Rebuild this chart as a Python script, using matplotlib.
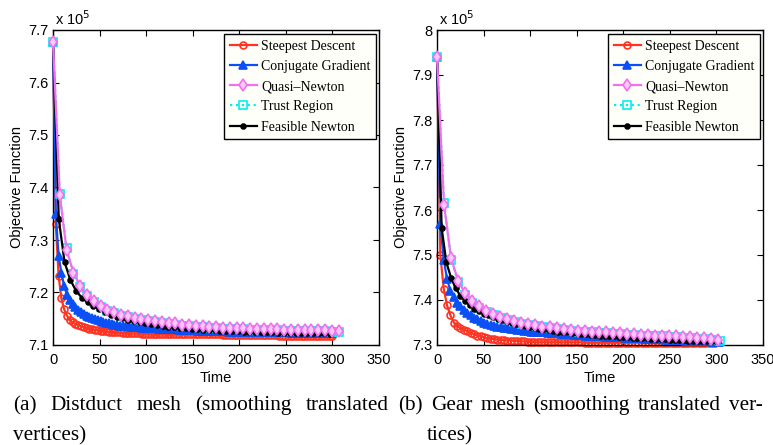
import numpy as np
import matplotlib.pyplot as plt

# ---- (a) Distduct mesh, values in units of 1e5 ----
a_steep_dt = 3.0
a_steep = [7.677, 7.330, 7.232, 7.189, 7.168, 7.156, 7.148, 7.143, 7.140, 7.138, 7.136,
           7.134, 7.132, 7.131, 7.130, 7.129, 7.128, 7.127, 7.126, 7.126, 7.125,
           7.125, 7.124, 7.124, 7.124, 7.123, 7.123, 7.123, 7.122, 7.122, 7.122,
           7.122, 7.121, 7.121, 7.121, 7.121, 7.121, 7.121, 7.121, 7.121, 7.121,
           7.121, 7.120, 7.120, 7.120, 7.120, 7.120, 7.120, 7.120, 7.120, 7.120,
           7.120, 7.120, 7.120, 7.120, 7.120, 7.120, 7.120, 7.120, 7.120, 7.120,
           7.119, 7.119, 7.119, 7.119, 7.119, 7.119, 7.119, 7.119, 7.119, 7.119,
           7.119, 7.119, 7.119, 7.119, 7.119, 7.119, 7.119, 7.119, 7.119, 7.119,
           7.118, 7.118, 7.118, 7.118, 7.118, 7.118, 7.118, 7.118, 7.118, 7.118,
           7.118, 7.118, 7.118, 7.118, 7.118, 7.118, 7.118, 7.118, 7.118, 7.118]
a_conj_dt = 3.0
a_conj = [7.677, 7.350, 7.270, 7.237, 7.212, 7.196, 7.186, 7.178, 7.172, 7.167, 7.163,
          7.159, 7.156, 7.153, 7.151, 7.149, 7.147, 7.145, 7.143, 7.142, 7.141,
          7.140, 7.139, 7.138, 7.137, 7.137, 7.136, 7.136, 7.135, 7.135, 7.134,
          7.134, 7.133, 7.133, 7.133, 7.132, 7.132, 7.132, 7.131, 7.131, 7.131,
          7.130, 7.130, 7.130, 7.130, 7.129, 7.129, 7.129, 7.129, 7.128, 7.128,
          7.128, 7.127, 7.127, 7.127, 7.127, 7.127, 7.126, 7.126, 7.126, 7.126,
          7.126, 7.126, 7.125, 7.125, 7.125, 7.125, 7.125, 7.125, 7.125, 7.125,
          7.125, 7.125, 7.124, 7.124, 7.124, 7.124, 7.124, 7.124, 7.124, 7.124,
          7.124, 7.124, 7.124, 7.124, 7.123, 7.123, 7.123, 7.123, 7.123, 7.123,
          7.123, 7.123, 7.123, 7.123, 7.123, 7.122, 7.122, 7.122, 7.122, 7.122]
a_quasi_dt = 7.3
a_quasi = [7.677, 7.385, 7.281, 7.238, 7.212, 7.195, 7.183, 7.174, 7.167, 7.162, 7.158,
           7.155, 7.152, 7.150, 7.148, 7.146, 7.144, 7.142, 7.141, 7.139, 7.138,
           7.137, 7.136, 7.135, 7.134, 7.133, 7.133, 7.132, 7.132, 7.131, 7.131,
           7.130, 7.130, 7.130, 7.129, 7.129, 7.129, 7.128, 7.128, 7.128, 7.128,
           7.127, 7.127]
a_trust_dt = 7.3
a_trust = [7.677, 7.388, 7.284, 7.236, 7.210, 7.193, 7.181, 7.172, 7.165, 7.160, 7.156,
           7.153, 7.150, 7.148, 7.146, 7.144, 7.142, 7.140, 7.139, 7.137, 7.136,
           7.135, 7.134, 7.133, 7.132, 7.131, 7.131, 7.130, 7.130, 7.129, 7.129,
           7.128, 7.128, 7.128, 7.127, 7.127, 7.127, 7.126, 7.126, 7.126, 7.126,
           7.125, 7.125]
a_feas_dt = 6.2
a_feas = [7.677, 7.340, 7.258, 7.224, 7.203, 7.190, 7.181, 7.174, 7.168, 7.163, 7.158,
          7.154, 7.151, 7.148, 7.146, 7.144, 7.142, 7.140, 7.138, 7.137, 7.135,
          7.134, 7.133, 7.132, 7.131, 7.130, 7.129, 7.128, 7.128, 7.127, 7.127,
          7.126, 7.126, 7.125, 7.125, 7.125, 7.124, 7.124, 7.124, 7.123, 7.123,
          7.123, 7.123, 7.122, 7.122, 7.122, 7.122, 7.122, 7.121]

# ---- (b) Gear mesh ----
b_steep_dt = 3.6
b_steep = [7.940, 7.500, 7.425, 7.388, 7.366, 7.350, 7.342, 7.337, 7.334, 7.331,
           7.327, 7.324, 7.321, 7.319, 7.317, 7.315, 7.314, 7.313, 7.312, 7.311,
           7.311, 7.310, 7.310, 7.309, 7.309, 7.308, 7.308, 7.307, 7.307,
           7.306, 7.306, 7.306, 7.306, 7.306, 7.306, 7.306, 7.306, 7.306, 7.306,
           7.306, 7.306, 7.306, 7.306, 7.306,
           7.305, 7.305, 7.305, 7.305, 7.305, 7.305, 7.305, 7.305, 7.305, 7.305,
           7.305, 7.305, 7.305, 7.305, 7.305, 7.305, 7.305, 7.305, 7.305, 7.305,
           7.304, 7.304, 7.304, 7.304, 7.304, 7.304, 7.304, 7.304, 7.304, 7.304,
           7.304, 7.304, 7.304, 7.304, 7.304, 7.304, 7.304, 7.304, 7.304, 7.304]
b_conj_dt = 3.6
b_conj = [7.940, 7.570, 7.490, 7.446, 7.421, 7.406, 7.394, 7.386, 7.378, 7.371,
          7.366, 7.361, 7.357, 7.353, 7.350, 7.347, 7.345, 7.343, 7.341, 7.339,
          7.338, 7.337, 7.336, 7.335, 7.334, 7.333, 7.332, 7.331, 7.330,
          7.329, 7.329, 7.328, 7.328, 7.327, 7.327, 7.326, 7.326, 7.325, 7.325,
          7.324, 7.324, 7.323, 7.322,
          7.322, 7.321, 7.321, 7.320, 7.320, 7.319, 7.319, 7.318, 7.318, 7.318,
          7.317, 7.317, 7.317, 7.316,
          7.316, 7.316, 7.315, 7.315, 7.315, 7.314, 7.314, 7.314, 7.313, 7.313,
          7.313, 7.312, 7.312, 7.312,
          7.311, 7.311, 7.311, 7.310, 7.310, 7.310, 7.309, 7.309, 7.309, 7.308,
          7.308, 7.307, 7.307, 7.306]
b_quasi_dt = 7.55
b_quasi = [7.940, 7.612, 7.493, 7.443, 7.415, 7.397, 7.386, 7.375, 7.368, 7.362,
           7.357, 7.353, 7.349, 7.346, 7.344, 7.341, 7.339, 7.337, 7.335, 7.334,
           7.332, 7.331, 7.330, 7.329, 7.328, 7.327, 7.326, 7.325, 7.324, 7.323,
           7.322, 7.321, 7.321, 7.320, 7.319, 7.318, 7.317, 7.316, 7.315, 7.314,
           7.312]
b_trust_dt = 7.6
b_trust = [7.940, 7.615, 7.490, 7.440, 7.412, 7.394, 7.383, 7.373, 7.366, 7.360,
           7.355, 7.351, 7.347, 7.344, 7.342, 7.339, 7.337, 7.335, 7.333, 7.332,
           7.330, 7.329, 7.328, 7.327, 7.326, 7.325, 7.324, 7.323, 7.322, 7.321,
           7.320, 7.319, 7.319, 7.318, 7.317, 7.316, 7.315, 7.314, 7.313, 7.312,
           7.310]
b_feas_dt = 5.0
b_feas = [7.940, 7.560, 7.484, 7.450, 7.426, 7.410, 7.398, 7.389, 7.381, 7.375,
          7.370, 7.366, 7.362, 7.358, 7.355, 7.352, 7.349, 7.347, 7.344, 7.342,
          7.340, 7.338, 7.336, 7.335, 7.333, 7.332, 7.330, 7.329, 7.328, 7.327,
          7.326, 7.325, 7.324, 7.323, 7.322, 7.321, 7.320, 7.320, 7.319, 7.318,
          7.318, 7.317, 7.316, 7.316, 7.315, 7.315, 7.314, 7.314, 7.313, 7.313,
          7.312, 7.312, 7.311, 7.311, 7.310, 7.310, 7.310, 7.309, 7.309, 7.308,
          7.308]

labels = ["Steepest Descent", "Conjugate Gradient", "Quasi\u2013Newton",
          "Trust Region", "Feasible Newton"]

panels = [
    dict(series=[(a_steep_dt, a_steep), (a_conj_dt, a_conj), (a_quasi_dt, a_quasi),
                 (a_trust_dt, a_trust), (a_feas_dt, a_feas)],
         ylim=(7.1, 7.7), yticks=[7.1, 7.2, 7.3, 7.4, 7.5, 7.6, 7.7]),
    dict(series=[(b_steep_dt, b_steep), (b_conj_dt, b_conj), (b_quasi_dt, b_quasi),
                 (b_trust_dt, b_trust), (b_feas_dt, b_feas)],
         ylim=(7.3, 8.0), yticks=[7.3, 7.4, 7.5, 7.6, 7.7, 7.8, 7.9, 8.0]),
]

styles = [
    dict(color="#ff3322", marker="o", mfc="none", mec="#ff3322", ms=5, ls="-", zorder=2),
    dict(color="#0a50f5", marker="^", mfc="#0a50f5", mec="#0a50f5", ms=5.5, ls="-", zorder=3),
    dict(color="#f070f0", marker="d", mfc="#fbc8fb", mec="#f070f0", ms=6, ls="-", zorder=6),
    dict(color="#00f0f0", marker="s", mfc="none", mec="#00f0f0", ms=5.5, ls=":", zorder=4),
    dict(color="black", marker="o", mfc="black", mec="black", ms=3.5, ls="-", zorder=5),
]

W, H = 773, 445
fig = plt.figure(figsize=(W / 100, H / 100), dpi=100)
sans = "Liberation Sans"
serif = "Liberation Serif"

axes_px = [(53, 30, 379, 345), (437, 30, 763, 345)]

for (x0, y0, x1, y1), p in zip(axes_px, panels):
    ax = fig.add_axes([x0 / W, 1 - y1 / H, (x1 - x0) / W, (y1 - y0) / H])
    handles = []
    for (dt, vals), st in zip(p["series"], styles):
        t = np.arange(len(vals)) * dt
        h, = ax.plot(t, vals, lw=1.6, clip_on=False, markeredgewidth=1.2, **st)
        handles.append(h)
    ax.set_xlim(0, 350)
    ax.set_ylim(*p["ylim"])
    ax.set_xticks(range(0, 351, 50))
    ax.set_yticks(p["yticks"])
    ax.set_yticklabels(["%g" % v for v in p["yticks"]])
    ax.tick_params(direction="in", top=True, right=True, length=4, width=0.8,
                   labelsize=10.5)
    ax.tick_params(axis="x", pad=6)
    ax.tick_params(axis="y", pad=3)
    for lab in ax.get_xticklabels() + ax.get_yticklabels():
        lab.set_fontfamily(sans)
    for s in ax.spines.values():
        s.set_linewidth(1.0)
    ax.set_xlabel("Time", fontsize=10.5, family=sans, labelpad=3)
    ax.set_ylabel("Objective Function", fontsize=10.5, family=sans, labelpad=3)
    ax.text(0.005, 1.006, "x 10$^5$", transform=ax.transAxes, fontsize=10.5,
            family=sans, va="bottom", ha="left")
    leg = ax.legend(handles, labels, loc="upper right", bbox_to_anchor=(0.992, 0.987),
                    borderaxespad=0, prop=dict(family=serif, size=10),
                    fancybox=False, framealpha=1, edgecolor="black",
                    facecolor="#fffffa", handlelength=2.0, handletextpad=0.3,
                    labelspacing=0.52, borderpad=0.4)
    leg.get_frame().set_linewidth(1.0)
    leg.set_zorder(10)

# captions: first lines justified between two pixel bounds
cap_size = 15.3
renderer = fig.canvas.get_renderer()


def justified(words, left, right, base):
    texts = [fig.text(0, 1 - base / H, w, family=serif, fontsize=cap_size, va="baseline")
             for w in words]
    widths = [t.get_window_extent(renderer).width for t in texts]
    gap = (right - left - sum(widths)) / (len(words) - 1)
    x = left
    for t, w in zip(texts, widths):
        t.set_x(x / W)
        x += w + gap


justified(["(a)", "Distduct", "mesh", "(smoothing", "translated"], 13, 389, 410)
justified(["(b)", "Gear", "mesh", "(smoothing", "translated", "ver-"], 398, 763, 410)
fig.text(13 / W, 1 - 440 / H, "vertices)", family=serif, fontsize=cap_size, va="baseline")
fig.text(427 / W, 1 - 440 / H, "tices)", family=serif, fontsize=cap_size, va="baseline")

fig.savefig("out.png", dpi=100)
